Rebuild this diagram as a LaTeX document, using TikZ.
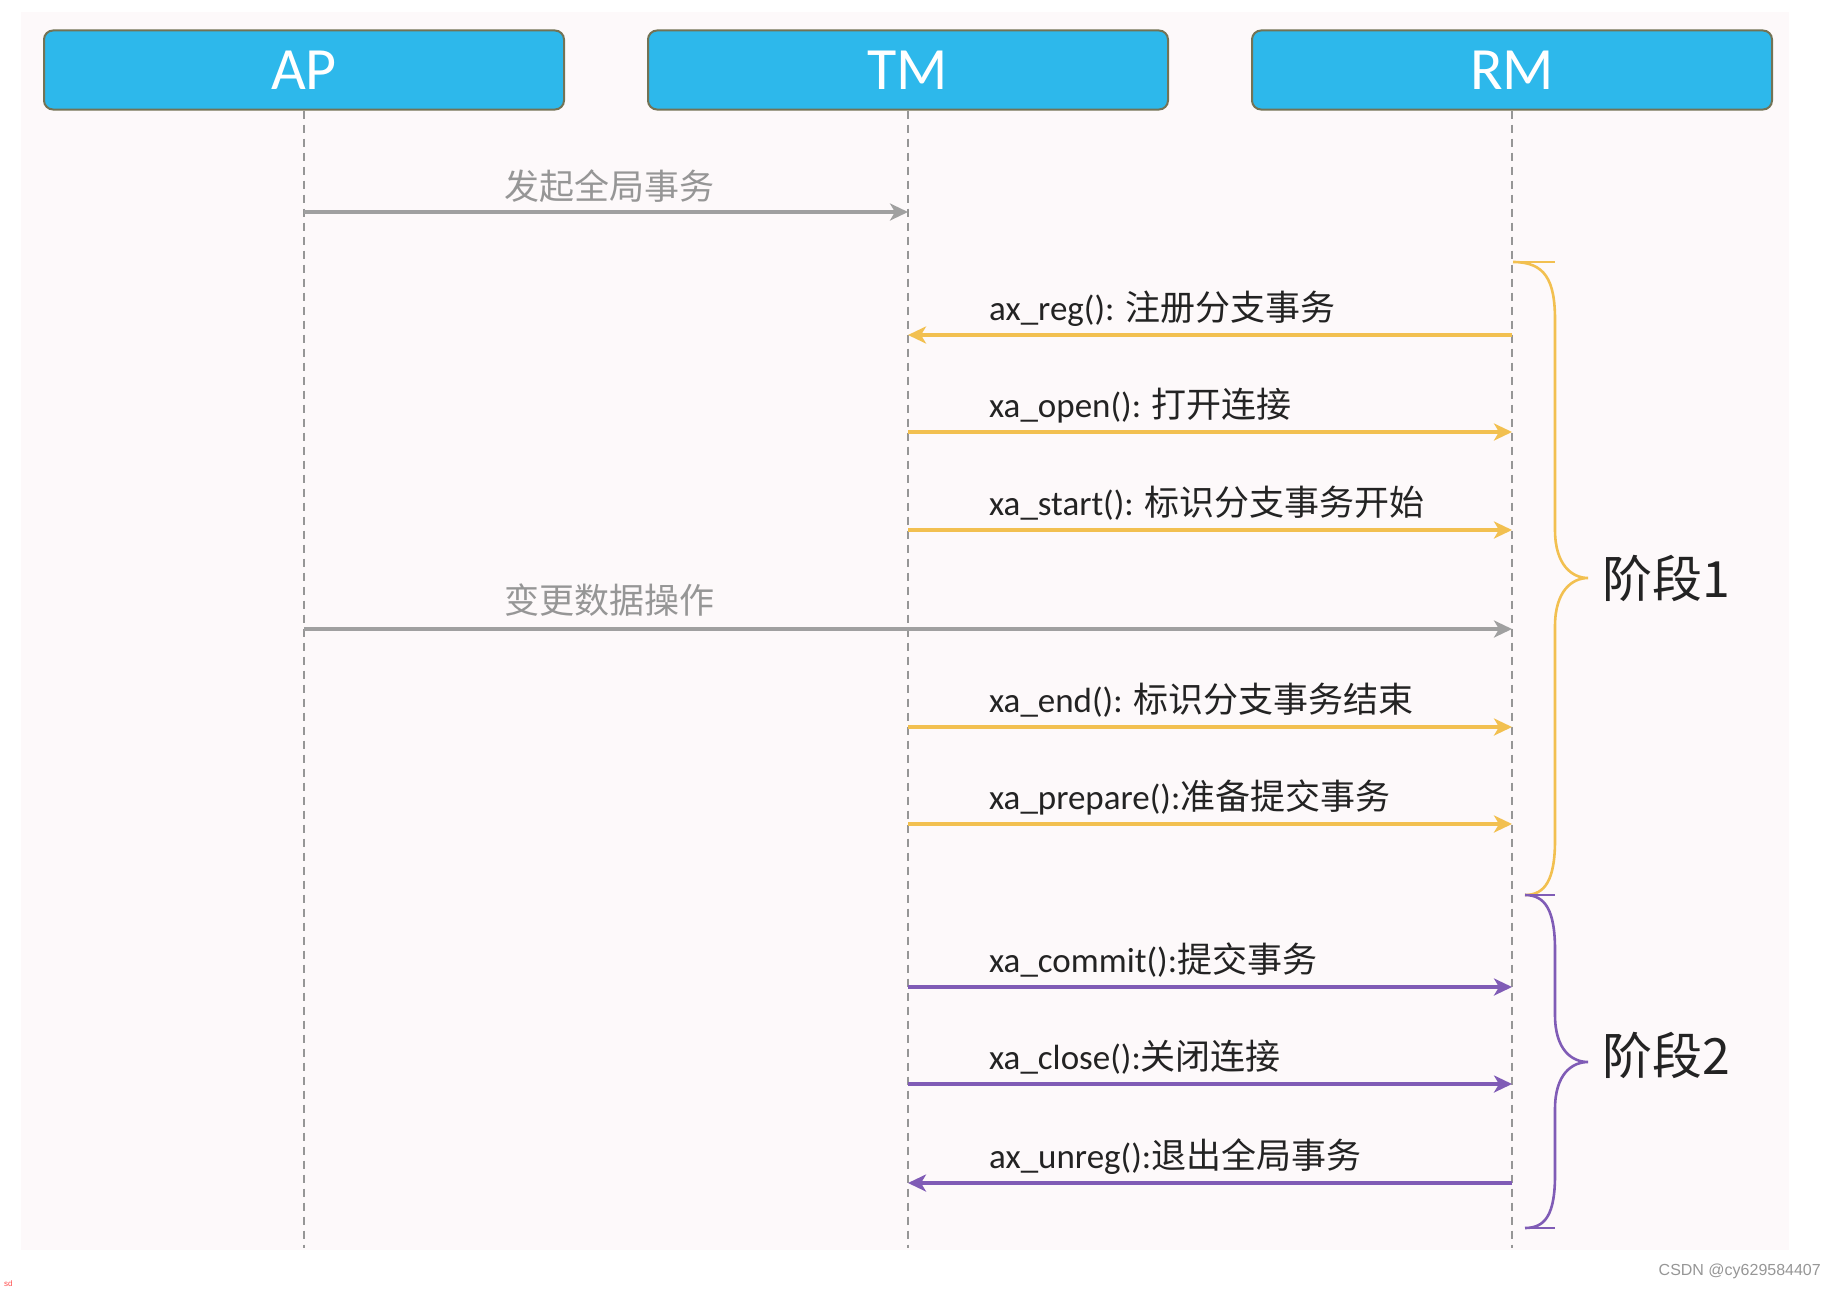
\documentclass[tikz,border=0pt]{standalone}
\usepackage{fontspec}
\setmainfont{Carlito}
\newfontfamily\cjk{Noto Sans CJK SC}
\newfontfamily\wmfont{Liberation Sans}
\usetikzlibrary{arrows.meta}
\definecolor{boxblue}{RGB}{45,184,235}
\definecolor{boxedge}{RGB}{115,115,85}
\definecolor{yel}{RGB}{242,192,80}
\definecolor{pur}{RGB}{128,92,182}
\definecolor{garr}{RGB}{160,160,160}
\definecolor{gtext}{RGB}{150,150,150}
\definecolor{lifec}{RGB}{150,150,150}
\definecolor{bgpink}{RGB}{253,249,250}
\definecolor{txt}{RGB}{35,35,35}
\newcommand{\msg}[2]{#1{\cjk #2}}
\tikzset{
  actor/.style={draw=boxedge, line width=2pt, fill=boxblue, rounded corners=9pt,
    minimum width=520pt, minimum height=79pt, inner sep=0pt, text=white,
    font=\fontsize{60}{66}\selectfont},
  life/.style={draw=lifec, line width=1.6pt, dash pattern=on 8pt off 6pt},
  msgarrow/.style={line width=3.2pt, -{Stealth[length=18pt,width=17pt,inset=5pt]}},
  yarrow/.style={msgarrow, draw=yel, color=yel},
  parrow/.style={msgarrow, draw=pur, color=pur},
  garrow/.style={msgarrow, draw=garr, color=garr},
  mlabel/.style={anchor=base west, inner sep=0pt, text=txt, font=\fontsize{35}{42}\selectfont},
  glabel/.style={anchor=base, inner sep=0pt, text=gtext, font=\cjk\fontsize{35}{42}\selectfont},
  phase/.style={anchor=west, inner sep=0pt, text=txt, font=\cjk\fontsize{50}{56}\selectfont},
  ybrace/.style={draw=yel, line width=2.6pt},
  pbrace/.style={draw=pur, line width=2.6pt},
}
\begin{document}
\begin{tikzpicture}[x=1pt,y=-1pt]
\useasboundingbox (0,0) rectangle (1836,1290);
\fill[bgpink] (21,12) rectangle (1789,1250);

% actors
\node[actor] (AP) at (304,70) {AP};
\node[actor] (TM) at (908,70) {TM};
\node[actor] (RM) at (1512,70) {RM};

% lifeline ends
\coordinate (APend) at (304,1248);
\coordinate (TMend) at (908,1248);
\coordinate (RMend) at (1512,1248);
\draw[life] (AP.south) -- (APend);
\draw[life] (TM.south) -- (TMend);
\draw[life] (RM.south) -- (RMend);

% message endpoints
\coordinate (ap1) at (304,212);  \coordinate (tm1) at (908,212);
\coordinate (tm2) at (908,335);  \coordinate (rm2) at (1512,335);
\coordinate (tm3) at (908,432);  \coordinate (rm3) at (1512,432);
\coordinate (tm4) at (908,530);  \coordinate (rm4) at (1512,530);
\coordinate (ap5) at (304,629);  \coordinate (rm5) at (1512,629);
\coordinate (tm6) at (908,727);  \coordinate (rm6) at (1512,727);
\coordinate (tm7) at (908,824);  \coordinate (rm7) at (1512,824);
\coordinate (tm8) at (908,987);  \coordinate (rm8) at (1512,987);
\coordinate (tm9) at (908,1084); \coordinate (rm9) at (1512,1084);
\coordinate (tm10) at (908,1183); \coordinate (rm10) at (1512,1183);

% messages
\draw[garrow] (ap1) -- (tm1);
\node[glabel] (l1) at (609,199) {发起全局事务};

\draw[yarrow] (rm2) -- (tm2);
\node[mlabel] (l2) at (989,320) {\msg{ax\_reg(): }{注册分支事务}};

\draw[yarrow] (tm3) -- (rm3);
\node[mlabel] (l3) at (989,417) {\msg{xa\_open(): }{打开连接}};

\draw[yarrow] (tm4) -- (rm4);
\node[mlabel] (l4) at (989,515) {\msg{xa\_start(): }{标识分支事务开始}};

\draw[garrow] (ap5) -- (rm5);
\node[glabel] (l5) at (609,613) {变更数据操作};

\draw[yarrow] (tm6) -- (rm6);
\node[mlabel] (l6) at (989,712) {\msg{xa\_end(): }{标识分支事务结束}};

\draw[yarrow] (tm7) -- (rm7);
\node[mlabel] (l7) at (989,809) {\msg{xa\_prepare():}{准备提交事务}};

\draw[parrow] (tm8) -- (rm8);
\node[mlabel] (l8) at (989,972) {\msg{xa\_commit():}{提交事务}};

\draw[parrow] (tm9) -- (rm9);
\node[mlabel] (l9) at (989,1069) {\msg{xa\_close():}{关闭连接}};

\draw[parrow] (rm10) -- (tm10);
\node[mlabel] (l10) at (989,1168) {\msg{ax\_unreg():}{退出全局事务}};

% brace 1 (yellow)
\draw[ybrace] (1513,262) -- (1555,262);
\draw[ybrace] (1513,262) .. controls (1545,262) and (1555,280) .. (1555,320)
  -- (1555,530) .. controls (1555,565) and (1572,578) .. (1588,578)
  .. controls (1572,578) and (1555,591) .. (1555,626)
  -- (1555,840) .. controls (1555,880) and (1545,895) .. (1525,895);
\node[phase] (ph1) at (1602,578) {阶段1};

% brace 2 (purple)
\draw[pbrace] (1525,895) -- (1555,895);
\draw[pbrace] (1525,895) .. controls (1545,895) and (1555,910) .. (1555,950)
  -- (1555,1015) .. controls (1555,1050) and (1572,1062) .. (1588,1062)
  .. controls (1572,1062) and (1555,1074) .. (1555,1109)
  -- (1555,1175) .. controls (1555,1215) and (1545,1228) .. (1525,1228);
\draw[pbrace] (1525,1228) -- (1555,1228);
\node[phase] (ph2) at (1602,1055) {阶段2};

% watermark
\node[anchor=east, inner sep=0pt, text=gtext, font=\wmfont\fontsize{16}{18}\selectfont] (wm) at (1821,1271) {CSDN @cy629584407};
\node[anchor=west, inner sep=0pt, text=red!70, font=\wmfont\fontsize{8}{9}\selectfont] (sd) at (4,1284) {sd};
\end{tikzpicture}
\end{document}
